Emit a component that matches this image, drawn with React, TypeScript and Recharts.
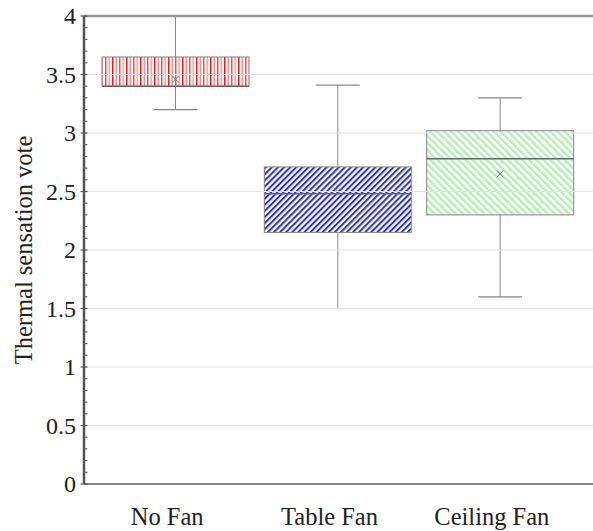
import { Bar, ComposedChart, ReferenceLine, XAxis, YAxis } from "recharts";

const categories = ["No Fan", "Table Fan", "Ceiling Fan"];
const minValues = [3.2, 1.5, 1.6];
const q1Values = [3.4, 2.15, 2.3];
const medianValues = [3.4, 2.48, 2.78];
const q3Values = [3.65, 2.71, 3.02];
const maxValues = [4.0, 3.41, 3.3];
const meanValues = [3.46, 2.5, 2.65];
const fills = ["url(#redVert)", "url(#blueDiag)", "url(#greenDiag)"];

const yTicks = [
  0, 0.1, 0.2, 0.3, 0.4, 0.5, 0.6, 0.7, 0.8, 0.9, 1, 1.1, 1.2, 1.3, 1.4, 1.5,
  1.6, 1.7, 1.8, 1.9, 2, 2.1, 2.2, 2.3, 2.4, 2.5, 2.6, 2.7, 2.8, 2.9, 3, 3.1,
  3.2, 3.3, 3.4, 3.5, 3.6, 3.7, 3.8, 3.9, 4,
];
const gridValues = [0.5, 1, 1.5, 2, 2.5, 3, 3.5];

const FONT = "'Liberation Serif', 'Times New Roman', serif";

const data = categories.map((name, i) => ({
  name,
  range: [minValues[i], maxValues[i]],
  min: minValues[i],
  q1: q1Values[i],
  median: medianValues[i],
  q3: q3Values[i],
  max: maxValues[i],
  mean: meanValues[i],
  fill: fills[i],
}));

function BoxShape(props: any) {
  const { x, y, width, height, payload } = props;
  const top = Math.min(y, y + height);
  const bottom = Math.max(y, y + height);
  // map values using the bar's own pixel span (max -> top, min -> bottom)
  const py = (v: number) =>
    top + ((payload.max - v) / (payload.max - payload.min)) * (bottom - top);
  const cx = x + width / 2;
  const cap = 22;
  const yq1 = py(payload.q1);
  const yq3 = py(payload.q3);
  const ymed = py(payload.median);
  const ymean = py(payload.mean);
  const m = 3.5;
  return (
    <g>
      <line x1={cx} x2={cx} y1={top} y2={yq3} stroke="#888" strokeWidth={1} />
      <line x1={cx} x2={cx} y1={yq1} y2={bottom} stroke="#888" strokeWidth={1} />
      <line x1={cx - cap} x2={cx + cap} y1={top} y2={top} stroke="#888" strokeWidth={1.2} />
      <line x1={cx - cap} x2={cx + cap} y1={bottom} y2={bottom} stroke="#888" strokeWidth={1.2} />
      <rect
        x={x}
        y={yq3}
        width={width}
        height={yq1 - yq3}
        fill={payload.fill}
        stroke="#888"
        strokeWidth={1}
      />
      <line x1={x} x2={x + width} y1={ymed} y2={ymed} stroke="#666" strokeWidth={1.5} />
      <line x1={cx - m} x2={cx + m} y1={ymean - m} y2={ymean + m} stroke="#777" strokeWidth={1} />
      <line x1={cx - m} x2={cx + m} y1={ymean + m} y2={ymean - m} stroke="#777" strokeWidth={1} />
    </g>
  );
}

function YTick(props: any) {
  const { x, y, payload } = props;
  const v = payload.value;
  const axisX = x + 8;
  const major = Math.abs(v * 2 - Math.round(v * 2)) < 1e-6;
  if (!major) {
    return <line x1={axisX} x2={axisX + 3.5} y1={y} y2={y} stroke="#555" strokeWidth={1} />;
  }
  return (
    <g>
      <line x1={axisX - 3.5} x2={axisX + 3.5} y1={y} y2={y} stroke="#555" strokeWidth={1.2} />
      <text
        x={x}
        y={y}
        dy="0.35em"
        textAnchor="end"
        fontSize={24}
        fontFamily={FONT}
        fill="#222"
      >
        {v}
      </text>
    </g>
  );
}

function XTick(props: any) {
  const { x, y, payload } = props;
  return (
    <text
      x={x - 8}
      y={y}
      dy="0.71em"
      textAnchor="middle"
      fontSize={24.5}
      fontFamily={FONT}
      fill="#222"
    >
      {payload.value}
    </text>
  );
}

export default function App() {
  return (
    <div style={{ position: "absolute", left: 0, top: 0, background: "#fff" }}>
      <ComposedChart
        width={593}
        height={531}
        data={data}
        margin={{ top: 16, right: 0, bottom: 0, left: 0 }}
      >
        <defs>
          <pattern id="redVert" patternUnits="userSpaceOnUse" width="14" height="10">
            <rect width="14" height="10" fill="#fff" />
            <rect x="0" width="1.5" height="10" fill="#f01818" />
            <rect x="3.5" width="1.5" height="10" fill="#ff8c8c" />
            <rect x="7" width="1.5" height="10" fill="#ff4848" />
            <rect x="10.5" width="1.5" height="10" fill="#ffa4a4" />
          </pattern>
          <pattern
            id="blueDiag"
            patternUnits="userSpaceOnUse"
            width="4.3"
            height="10"
            patternTransform="rotate(45)"
          >
            <rect width="4.3" height="10" fill="#fff" />
            <rect x="0" width="2" height="10" fill="#2a33c8" />
          </pattern>
          <pattern
            id="greenDiag"
            patternUnits="userSpaceOnUse"
            width="5"
            height="10"
            patternTransform="rotate(-45)"
          >
            <rect width="5" height="10" fill="#fff" />
            <rect x="0" width="2.4" height="10" fill="#b4eeb4" />
          </pattern>
        </defs>
        {gridValues.map((v) => (
          <ReferenceLine key={v} y={v} stroke="#e4e4e4" strokeWidth={1} />
        ))}
        <XAxis
          dataKey="name"
          height={47}
          padding={{ left: 10, right: 12 }}
          axisLine={{ stroke: "#888", strokeWidth: 2 }}
          tickLine={false}
          tickSize={22}
          tickMargin={2}
          tick={<XTick />}
          interval={0}
        />
        <YAxis
          type="number"
          domain={[0, 4]}
          ticks={yTicks}
          interval={0}
          width={84}
          axisLine={{ stroke: "#555", strokeWidth: 2.5 }}
          tickLine={false}
          tickSize={6}
          tickMargin={2}
          tick={<YTick />}
        />
        <ReferenceLine y={4} stroke="#999" strokeWidth={2.5} />
        <Bar dataKey="range" barSize={147} shape={<BoxShape />} isAnimationActive={false} />
        <text
          transform="translate(23,250) rotate(-90)"
          textAnchor="middle"
          dominantBaseline="central"
          fontSize={24.5}
          fontFamily={FONT}
          fill="#222"
        >
          Thermal sensation vote
        </text>
      </ComposedChart>
    </div>
  );
}
